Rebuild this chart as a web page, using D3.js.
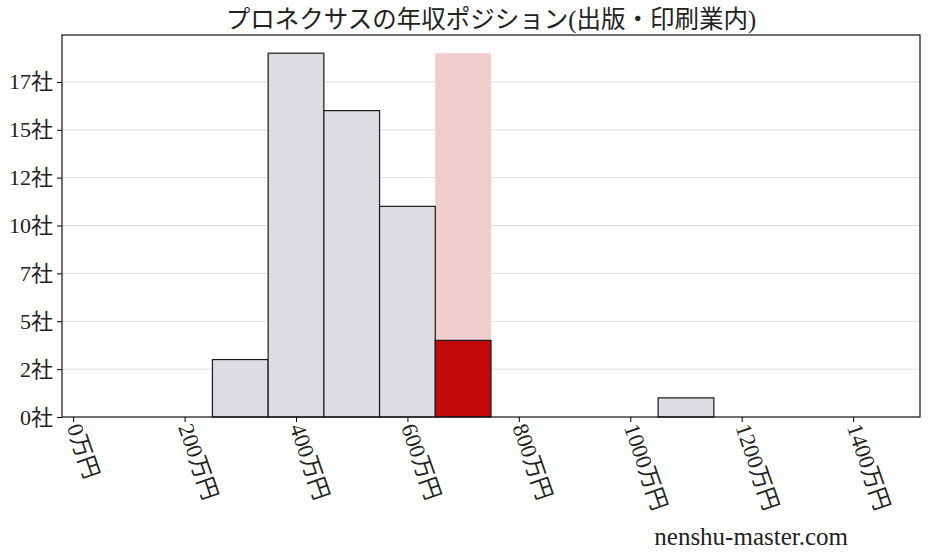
<!DOCTYPE html>
<html><head><meta charset="utf-8">
<script src="https://cdn.jsdelivr.net/npm/d3@7"></script>
<style>
body{margin:0;background:#fff;}
svg text{font-family:"Liberation Serif","DejaVu Serif","Noto Sans CJK JP",serif;fill:#222;}
</style></head>
<body><svg id="c" width="928" height="557"></svg>
<script>
// Data
const binStarts = [250, 350, 450, 550, 650, 1050];
const binCounts = [3, 19, 16, 11, 4, 1];
const binWidth = 100;
const highlightStart = 650;
const highlightCount = 4;
const xTicks = [0, 200, 400, 600, 800, 1000, 1200, 1400];
const yTicks = [0, 2.5, 5, 7.5, 10, 12.5, 15, 17.5];
const title = "プロネクサスの年収ポジション(出版・印刷業内)";
const watermark = "nenshu-master.com";

const svg = d3.select("#c");
const L = 62, R = 920, T = 35, B = 417;
const x = d3.scaleLinear().domain([-20, 1520]).range([L, R]);
const yMax = d3.max(binCounts) * 1.05;
const y = d3.scaleLinear().domain([0, yMax]).range([B, T]);

// grid
svg.append("g").selectAll("line").data(yTicks.slice(1)).join("line")
  .attr("x1", L).attr("x2", R).attr("y1", d => y(d)).attr("y2", d => y(d))
  .attr("stroke", "#dddddd").attr("stroke-width", 1);

// highlight band
svg.append("rect")
  .attr("x", x(highlightStart)).attr("width", x(highlightStart + binWidth) - x(highlightStart))
  .attr("y", y(d3.max(binCounts))).attr("height", y(0) - y(d3.max(binCounts)))
  .attr("fill", "#f0cccc");

// bars
const bars = binStarts.map((s, i) => ({s, c: binCounts[i]}));
svg.append("g").selectAll("rect").data(bars).join("rect")
  .attr("x", d => x(d.s)).attr("width", d => x(d.s + binWidth) - x(d.s))
  .attr("y", d => y(d.c)).attr("height", d => y(0) - y(d.c))
  .attr("fill", d => d.s === highlightStart ? "#c00a0a" : "#dcdde0")
  .attr("stroke", "#1a1a1a").attr("stroke-width", 1.2);

// frame
svg.append("rect").attr("x", L).attr("y", T).attr("width", R - L).attr("height", B - T)
  .attr("fill", "none").attr("stroke", "#111").attr("stroke-width", 1.2);

// y axis
const yAxis = d3.axisLeft(y).tickValues(yTicks).tickSize(5).tickPadding(4)
  .tickFormat(d => Math.floor(d) + "社");
const gy = svg.append("g").attr("transform", `translate(${L},0)`).call(yAxis);
gy.select(".domain").remove();
gy.selectAll("text").attr("font-size", 22).style("font-family", '"Liberation Serif","Noto Sans CJK JP",serif');

// x axis
const xAxis = d3.axisBottom(x).tickValues(xTicks).tickSize(5).tickFormat(d => d + "万円");
const gx = svg.append("g").attr("transform", `translate(0,${B})`).call(xAxis);
gx.select(".domain").remove();
gx.selectAll("text")
  .attr("font-size", 22.5)
  .attr("text-anchor", "start")
  .attr("dy", null)
  .attr("y", 0)
  .attr("transform", "translate(-7,10) rotate(71)")
  .style("font-family", '"Liberation Serif","Noto Sans CJK JP",serif');

// title
svg.append("text").attr("x", (L + R) / 2).attr("y", 28).attr("text-anchor", "middle")
  .attr("font-size", 24.5).text(title);

// watermark
svg.append("text").attr("x", 848).attr("y", 545).attr("text-anchor", "end")
  .attr("font-size", 25).text(watermark);
</script></body></html>
